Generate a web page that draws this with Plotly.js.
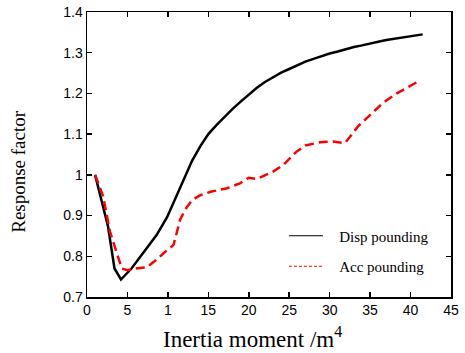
<!DOCTYPE html>
<html>
<head>
<meta charset="utf-8">
<script src="https://cdn.plot.ly/plotly-3.0.1.min.js"></script>
<style>body{margin:0;padding:0;background:#fff}#chart{width:465px;height:353px}</style>
</head>
<body>
<div id="chart"></div>
<script>
const dispX = [1, 2.6, 3.4, 4.2, 5.5, 7, 8.6, 9.9, 11, 12, 13, 14, 15, 16, 17, 18, 19, 20, 21, 22, 23, 24, 25, 26, 27, 28, 29, 30, 31, 32, 33, 34, 35, 36, 37, 38, 39, 40, 41.5];
const dispY = [1.0, 0.873, 0.77, 0.743, 0.77, 0.81, 0.852, 0.896, 0.945, 0.993, 1.035, 1.07, 1.10, 1.122, 1.143, 1.162, 1.18, 1.197, 1.214, 1.228, 1.240, 1.251, 1.260, 1.270, 1.278, 1.285, 1.292, 1.298, 1.303, 1.309, 1.314, 1.318, 1.323, 1.327, 1.331, 1.334, 1.338, 1.341, 1.345];
const accX = [1, 2, 2.85, 4.3, 5, 6, 7.4, 8.5, 9.5, 10.7, 11.5, 12.1, 13, 14, 15.4, 17.3, 18.9, 20, 21, 22, 23, 24.3, 25.9, 27, 28.8, 30.4, 31.9, 33.5, 35, 36.6, 38.3, 39.9, 41];
const accY = [1.0, 0.947, 0.86, 0.77, 0.766, 0.77, 0.773, 0.79, 0.808, 0.828, 0.889, 0.914, 0.938, 0.950, 0.959, 0.967, 0.979, 0.993, 0.99, 1.0, 1.008, 1.025, 1.057, 1.072, 1.080, 1.082, 1.078, 1.119, 1.148, 1.177, 1.200, 1.217, 1.230];
const xTickVals = [0, 5, 10, 15, 20, 25, 30, 35, 40, 45];
const xTickText = ['0', '5', '1', '15', '20', '25', '30', '35', '40', '45'];
const yTickVals = [0.7, 0.8, 0.9, 1, 1.1, 1.2, 1.3, 1.4];
const yTickText = ['0.7', '0.8', '0.9', '1', '1.1', '1.2', '1.3', '1.4'];
const seriesNames = ['Disp pounding', 'Acc pounding'];
const xTitle = 'Inertia moment /m<sup>4</sup>';
const yTitle = 'Response factor';

const pad = '\u00a0\u00a0\u00a0';
const traces = [
  {x: dispX, y: dispY, mode: 'lines', line: {color: '#000', width: 2.5}, showlegend: false, name: seriesNames[0]},
  {x: accX, y: accY, mode: 'lines', line: {color: '#ff0000', width: 2.5, dash: '9px,5px'}, showlegend: false, name: seriesNames[1]},
  {x: [null], y: [null], mode: 'lines', line: {color: '#000', width: 1.2}, name: pad + seriesNames[0], legendgroup: 'a'},
  {x: [null], y: [null], mode: 'lines', line: {color: '#ff0000', width: 1.2, dash: '3px,2px'}, name: pad + seriesNames[1], legendgroup: 'b'}
];

const serif = 'Liberation Serif, Times New Roman, serif';
const axisCommon = {
  showline: true, linecolor: '#000', linewidth: 1.5, mirror: 'ticks',
  ticks: 'inside', ticklen: 5, tickwidth: 1.5, tickcolor: '#000', tickmode: 'array',
  layer: 'above traces',
  showgrid: false, zeroline: false,
  tickfont: {family: 'Liberation Sans, Arial, sans-serif', size: 14, color: '#000'}
};

const layout = {
  width: 465, height: 353,
  margin: {l: 87, r: 14, t: 12, b: 56},
  paper_bgcolor: '#fff', plot_bgcolor: '#fff',
  showlegend: true,
  legend: {x: 0.541, y: 0.272, xanchor: 'left', yanchor: 'top', bgcolor: 'rgba(0,0,0,0)',
           font: {family: serif, size: 15, color: '#000'},
           itemwidth: 34, tracegroupgap: 8},
  xaxis: Object.assign({}, axisCommon, {
    range: [0, 45], tickvals: xTickVals, ticktext: xTickText
  }),
  yaxis: Object.assign({}, axisCommon, {
    range: [0.7, 1.4], tickvals: yTickVals, ticktext: yTickText
  }),
  annotations: [
    {text: xTitle, xref: 'paper', yref: 'paper', x: (252 - 87) / 364, y: (297 - 353) / 284.5,
     xanchor: 'center', yanchor: 'bottom', borderpad: 0, showarrow: false, font: {family: serif, size: 23, color: '#000'}},
    {text: yTitle, xref: 'paper', yref: 'paper', x: (19 - 87) / 364, y: (297 - 172) / 284.5,
     xanchor: 'center', yanchor: 'middle', textangle: -90, showarrow: false, font: {family: serif, size: 19, color: '#000'}}
  ]
};

Plotly.newPlot('chart', traces, layout, {staticPlot: true, displayModeBar: false});
</script>
</body>
</html>
